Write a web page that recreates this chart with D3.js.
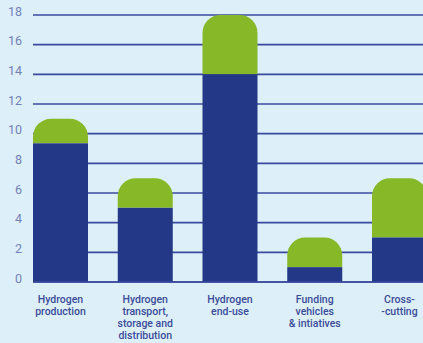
<!DOCTYPE html>
<html>
<head>
<meta charset="utf-8">
<script src="https://cdn.jsdelivr.net/npm/d3@7"></script>
<style>
  html, body { margin: 0; padding: 0; background: #ddeff9; }
  svg { display: block; }
</style>
</head>
<body>
<svg id="chart" width="423" height="343"></svg>
<script>
// Project counts per hydrogen area: base (blue) and additional (green) stacked
const categories = [
  ["Hydrogen", "production"],
  ["Hydrogen", "transport,", "storage and", "distribution"],
  ["Hydrogen", "end-use"],
  ["Funding", "vehicles", "& intiatives"],
  ["Cross-", "-cutting"]
];
const baseValues = [9.35, 5, 14, 1, 3];
const totalValues = [11, 7, 18, 3, 7];
const yTicks = [0, 2, 4, 6, 8, 10, 12, 14, 16, 18];

const W = 423, H = 343;
const svg = d3.select("#chart");

const x = d3.scaleBand()
  .domain(d3.range(categories.length))
  .range([33, 427])
  .paddingInner(0.351)
  .paddingOuter(0);

const y = d3.scaleLinear().domain([0, 18]).range([282, 15]);

// Gridlines
svg.append("g")
  .selectAll("line")
  .data(yTicks)
  .join("line")
  .attr("x1", 33)
  .attr("x2", W)
  .attr("y1", d => y(d))
  .attr("y2", d => y(d))
  .attr("stroke", "#3a4a9e")
  .attr("stroke-width", 1.6);

// Tick labels
svg.append("g")
  .selectAll("text")
  .data(yTicks)
  .join("text")
  .attr("x", 22)
  .attr("y", d => y(d) + 0.5)
  .attr("text-anchor", "end")
  .attr("font-family", "Roboto, sans-serif")
  .attr("font-size", 12.5)
  .attr("fill", "#7381b8")
  .text(d => d);

// Rounded-top rectangle path
function roundedTop(x0, yTop, w, h, r) {
  r = Math.min(r, h, w / 2);
  const yb = yTop + h;
  return `M${x0},${yb} L${x0},${yTop + r} A${r},${r} 0 0 1 ${x0 + r},${yTop}` +
         ` L${x0 + w - r},${yTop} A${r},${r} 0 0 1 ${x0 + w},${yTop + r}` +
         ` L${x0 + w},${yb} Z`;
}

const bars = svg.append("g");
// Green upper segment
bars.selectAll("path.top")
  .data(totalValues)
  .join("path")
  .attr("class", "top")
  .attr("d", (d, i) => roundedTop(x(i), y(d), x.bandwidth(), y(baseValues[i]) - y(d), 18))
  .attr("fill", "#86b828");
// Blue base segment
bars.selectAll("rect.base")
  .data(baseValues)
  .join("rect")
  .attr("class", "base")
  .attr("x", (d, i) => x(i))
  .attr("y", d => y(d))
  .attr("width", x.bandwidth())
  .attr("height", d => y(0) - y(d))
  .attr("fill", "#233886");

// Baseline
svg.append("line")
  .attr("x1", 33).attr("x2", W)
  .attr("y1", y(0)).attr("y2", y(0))
  .attr("stroke", "#3a4a9e").attr("stroke-width", 1.6);

// Category labels
const labels = svg.append("g")
  .selectAll("text")
  .data(categories)
  .join("text")
  .attr("text-anchor", "middle")
  .attr("font-family", "Roboto, sans-serif")
  .attr("font-weight", 500)
  .attr("font-size", 10.5)
  .attr("fill", "#3b4c98");
labels.each(function(lines, i) {
  d3.select(this).selectAll("tspan")
    .data(lines)
    .join("tspan")
    .attr("x", x(i) + x.bandwidth() / 2)
    .attr("y", (l, j) => 303 + j * 12)
    .text(l => l);
});
</script>
</body>
</html>
